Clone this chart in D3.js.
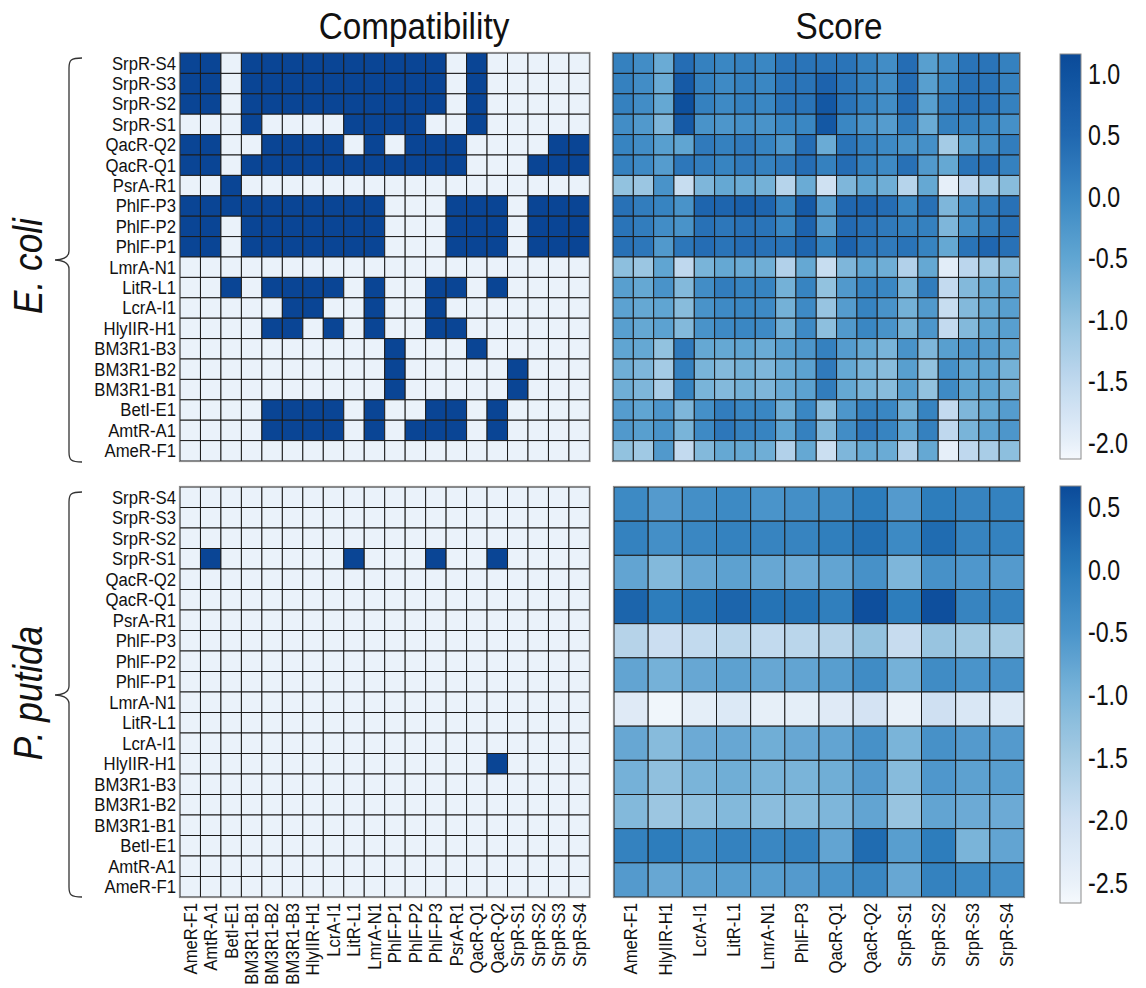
<!DOCTYPE html>
<html><head><meta charset="utf-8">
<script src="https://cdn.jsdelivr.net/npm/d3@7"></script>
<style>
body{margin:0;background:#fff}
svg{display:block}
text{font-family:"Liberation Sans",Arial,Helvetica,sans-serif;fill:#111}
</style>
</head><body>
<svg id="chart" width="1146" height="988"></svg>
<script>
// ---------------- DATA ----------------
const compatCols = ["AmeR-F1","AmtR-A1","BetI-E1","BM3R1-B1","BM3R1-B2","BM3R1-B3","HlyIIR-H1","LcrA-I1","LitR-L1","LmrA-N1","PhlF-P1","PhlF-P2","PhlF-P3","PsrA-R1","QacR-Q1","QacR-Q2","SrpR-S1","SrpR-S2","SrpR-S3","SrpR-S4"];
const compatRows = ["SrpR-S4","SrpR-S3","SrpR-S2","SrpR-S1","QacR-Q2","QacR-Q1","PsrA-R1","PhlF-P3","PhlF-P2","PhlF-P1","LmrA-N1","LitR-L1","LcrA-I1","HlyIIR-H1","BM3R1-B3","BM3R1-B2","BM3R1-B1","BetI-E1","AmtR-A1","AmeR-F1"];

const ecoliCompat = [
  [1,1,0,1,1,1,1,1,1,1,1,1,1,0,1,0,0,0,0,0],
  [1,1,0,1,1,1,1,1,1,1,1,1,1,0,1,0,0,0,0,0],
  [1,1,0,1,1,1,1,1,1,1,1,1,1,0,1,0,0,0,0,0],
  [0,0,0,1,0,0,0,0,1,1,1,1,0,0,1,0,0,0,0,0],
  [1,1,0,0,1,1,1,1,0,1,0,1,1,1,0,0,0,0,1,1],
  [1,1,0,1,1,1,1,1,1,1,1,1,1,1,0,0,0,1,1,1],
  [0,0,1,0,0,0,0,0,0,0,0,0,0,0,0,0,0,0,0,0],
  [1,1,1,1,1,1,1,1,1,1,0,0,0,1,1,1,0,1,1,1],
  [1,1,0,1,1,1,1,1,1,1,0,0,0,1,1,1,0,1,1,1],
  [1,1,0,1,1,1,1,1,1,1,0,0,0,1,1,1,0,1,1,1],
  [0,0,0,0,0,0,0,0,0,0,0,0,0,0,0,0,0,0,0,0],
  [0,0,1,0,1,1,1,1,0,1,0,0,1,1,0,1,0,0,0,0],
  [0,0,0,0,0,1,1,0,0,1,0,0,1,0,0,0,0,0,0,0],
  [0,0,0,0,1,1,0,1,0,1,0,0,1,1,0,0,0,0,0,0],
  [0,0,0,0,0,0,0,0,0,0,1,0,0,0,1,0,0,0,0,0],
  [0,0,0,0,0,0,0,0,0,0,1,0,0,0,0,0,1,0,0,0],
  [0,0,0,0,0,0,0,0,0,0,1,0,0,0,0,0,1,0,0,0],
  [0,0,0,0,1,1,1,1,0,1,0,0,1,1,0,1,0,0,0,0],
  [0,0,0,0,1,1,1,1,0,1,0,1,1,1,0,1,0,0,0,0],
  [0,0,0,0,0,0,0,0,0,0,0,0,0,0,0,0,0,0,0,0]
];

const pputidaCompat = [
  [0,0,0,0,0,0,0,0,0,0,0,0,0,0,0,0,0,0,0,0],
  [0,0,0,0,0,0,0,0,0,0,0,0,0,0,0,0,0,0,0,0],
  [0,0,0,0,0,0,0,0,0,0,0,0,0,0,0,0,0,0,0,0],
  [0,1,0,0,0,0,0,0,1,0,0,0,1,0,0,1,0,0,0,0],
  [0,0,0,0,0,0,0,0,0,0,0,0,0,0,0,0,0,0,0,0],
  [0,0,0,0,0,0,0,0,0,0,0,0,0,0,0,0,0,0,0,0],
  [0,0,0,0,0,0,0,0,0,0,0,0,0,0,0,0,0,0,0,0],
  [0,0,0,0,0,0,0,0,0,0,0,0,0,0,0,0,0,0,0,0],
  [0,0,0,0,0,0,0,0,0,0,0,0,0,0,0,0,0,0,0,0],
  [0,0,0,0,0,0,0,0,0,0,0,0,0,0,0,0,0,0,0,0],
  [0,0,0,0,0,0,0,0,0,0,0,0,0,0,0,0,0,0,0,0],
  [0,0,0,0,0,0,0,0,0,0,0,0,0,0,0,0,0,0,0,0],
  [0,0,0,0,0,0,0,0,0,0,0,0,0,0,0,0,0,0,0,0],
  [0,0,0,0,0,0,0,0,0,0,0,0,0,0,0,1,0,0,0,0],
  [0,0,0,0,0,0,0,0,0,0,0,0,0,0,0,0,0,0,0,0],
  [0,0,0,0,0,0,0,0,0,0,0,0,0,0,0,0,0,0,0,0],
  [0,0,0,0,0,0,0,0,0,0,0,0,0,0,0,0,0,0,0,0],
  [0,0,0,0,0,0,0,0,0,0,0,0,0,0,0,0,0,0,0,0],
  [0,0,0,0,0,0,0,0,0,0,0,0,0,0,0,0,0,0,0,0],
  [0,0,0,0,0,0,0,0,0,0,0,0,0,0,0,0,0,0,0,0]
];

const ecoliScoreCols = ["AmeR-F1","AmtR-A1","BetI-E1","BM3R1-B1","BM3R1-B2","BM3R1-B3","HlyIIR-H1","LcrA-I1","LitR-L1","LmrA-N1","PhlF-P1","PhlF-P2","PhlF-P3","PsrA-R1","QacR-Q1","QacR-Q2","SrpR-S1","SrpR-S2","SrpR-S3","SrpR-S4"];
const ecoliScoreRows = ["SrpR-S4","SrpR-S3","SrpR-S2","SrpR-S1","QacR-Q2","QacR-Q1","PsrA-R1","PhlF-P3","PhlF-P2","PhlF-P1","LmrA-N1","LitR-L1","LcrA-I1","HlyIIR-H1","BM3R1-B3","BM3R1-B2","BM3R1-B1","BetI-E1","AmtR-A1","AmeR-F1"];
const ecoliScore = [
  [0.1,-0.1,-0.6,0.4,0.1,0,0.1,0,0.3,0.3,0.3,0.3,0.1,-0.1,0.4,-0.4,-0.1,0.3,0.3,0.1],
  [0.1,-0.1,-0.6,0.8,0.1,-0.05,0.1,0,0.3,0.3,0.6,0.3,0.1,-0.1,0.4,-0.4,0,0.35,0.3,0.1],
  [0.1,-0.1,-0.55,1.05,0.1,-0.05,0.1,0,0.3,0.3,0.85,0.3,0.1,-0.1,0.4,-0.4,0.15,0.35,0.3,0.1],
  [-0.1,-0.3,-0.8,0.8,-0.2,-0.25,-0.15,-0.2,0,0,0.85,0,-0.2,-0.35,0.15,-0.6,0.1,0.1,0,-0.15],
  [0.05,-0.1,-0.4,-0.5,0.2,0.1,0.2,0.05,-0.25,0.4,-0.6,0.3,0.1,-0.05,-0.2,-0.15,-1.2,-0.4,-0.1,0.15],
  [0.1,-0.05,-0.35,0.25,0.15,0.05,0.2,0.1,0.2,0.4,0.1,0.4,0.1,-0.05,0.35,-0.3,-0.55,0.3,0.35,0.1],
  [-1.0,-1.1,-0.2,-1.6,-0.8,-0.55,-0.6,-0.7,-1.4,-0.6,-1.7,-0.8,-0.5,-0.65,-1.4,-0.55,-2.0,-1.5,-1.2,-0.9],
  [0.35,0.15,0.05,-0.2,0.55,0.55,0.7,0.55,0.05,0.8,-0.35,0.5,0.55,0.4,0,0.35,-0.8,-0.1,0.15,0.35],
  [0.3,0.15,-0.1,-0.2,0.35,0.25,0.35,0.3,0,0.6,-0.35,0.45,0.35,0.2,0.1,0.1,-0.8,-0.15,0.15,0.35],
  [0.35,0.25,-0.3,0.25,0.4,0.3,0.4,0.35,0.3,0.55,0.05,0.6,0.3,0.2,0.3,0.05,-0.55,0.3,0.5,0.35],
  [-0.95,-1.1,-0.5,-1.5,-0.75,-0.55,-0.6,-0.65,-1.35,-0.55,-1.6,-0.8,-0.5,-0.65,-1.35,-0.55,-1.95,-1.45,-1.15,-0.9],
  [-0.4,-0.55,-0.2,-0.85,-0.1,0.15,0.05,0.05,-0.7,0.05,-1.0,-0.3,0.05,0,-0.75,0.15,-1.55,-0.85,-0.55,-0.45],
  [-0.45,-0.55,-0.5,-0.9,-0.2,-0.05,0,-0.05,-0.7,-0.05,-1.05,-0.35,0.05,-0.2,-0.7,-0.3,-1.6,-0.85,-0.55,-0.4],
  [-0.4,-0.55,-0.45,-0.85,-0.2,-0.05,0,-0.05,-0.65,-0.05,-0.95,-0.3,0,-0.2,-0.7,-0.25,-1.55,-0.85,-0.5,-0.4],
  [-0.5,-0.55,-1.0,0.2,-0.55,-0.55,-0.5,-0.6,-0.4,-0.25,0.1,-0.35,-0.55,-0.75,-0.2,-0.8,-0.4,-0.25,-0.35,-0.5],
  [-0.65,-0.8,-1.2,0.1,-0.75,-0.85,-0.7,-0.8,-0.6,-0.45,0.2,-0.55,-0.75,-0.9,-0.4,-1.0,-0.15,-0.5,-0.5,-0.7],
  [-0.65,-0.8,-1.25,0.05,-0.75,-0.85,-0.7,-0.8,-0.6,-0.45,0.15,-0.55,-0.75,-0.9,-0.4,-1.0,-0.05,-0.5,-0.5,-0.7],
  [-0.35,-0.5,-0.25,-0.8,-0.15,0.15,0,0,-0.65,0,-0.95,-0.25,0.1,0,-0.7,0.05,-1.55,-0.8,-0.55,-0.35],
  [-0.3,-0.4,-0.2,-0.75,-0.05,0.25,0.1,0.05,-0.5,0.1,-0.85,-0.1,0.25,0.05,-0.5,0.1,-1.5,-0.75,-0.45,-0.25],
  [-1.0,-1.15,-0.3,-1.55,-0.85,-0.55,-0.55,-0.65,-1.35,-0.55,-1.65,-0.8,-0.55,-0.6,-1.35,-0.55,-2.0,-1.5,-1.25,-0.95]
];

const pputidaScoreCols = ["AmeR-F1","HlyIIR-H1","LcrA-I1","LitR-L1","LmrA-N1","PhlF-P3","QacR-Q1","QacR-Q2","SrpR-S1","SrpR-S2","SrpR-S3","SrpR-S4"];
const pputidaScoreRows = ["SrpR-S4","SrpR-S3","SrpR-S2","SrpR-S1","QacR-Q2","QacR-Q1","PhlF-P3","LmrA-N1","LitR-L1","LcrA-I1","HlyIIR-H1","AmeR-F1"];
const pputidaScore = [
  [-0.3,-0.6,-0.4,-0.3,-0.5,-0.4,-0.35,-0.05,-0.6,-0.05,-0.2,-0.15],
  [-0.15,-0.4,-0.25,-0.15,-0.2,-0.2,-0.1,0.15,-0.3,0.2,-0.2,-0.15],
  [-0.75,-1.1,-0.8,-0.7,-0.8,-0.85,-0.75,-0.45,-1.05,-0.45,-0.55,-0.6],
  [0.3,-0.05,0.1,0.3,0.1,0.1,-0.1,0.6,-0.05,0.6,-0.2,-0.15],
  [-1.7,-1.95,-1.85,-1.75,-1.85,-1.75,-1.7,-1.3,-1.9,-1.35,-1.45,-1.5],
  [-0.75,-0.95,-0.8,-0.7,-0.8,-0.75,-0.65,-0.35,-0.95,-0.35,-0.5,-0.45],
  [-2.3,-2.6,-2.4,-2.25,-2.45,-2.4,-2.3,-2.1,-2.5,-2.0,-2.2,-2.25],
  [-0.8,-1.15,-0.85,-0.8,-0.9,-0.8,-0.75,-0.45,-1.0,-0.45,-0.6,-0.6],
  [-0.95,-1.25,-1.0,-0.9,-1.0,-1.0,-0.9,-0.6,-1.15,-0.55,-0.7,-0.65],
  [-1.1,-1.4,-1.25,-1.1,-1.2,-1.15,-1.05,-0.75,-1.35,-0.75,-0.85,-0.85],
  [-0.15,-0.05,-0.3,-0.15,-0.25,-0.15,-0.75,0.2,-0.65,-0.05,-1.0,-0.75],
  [-0.6,-0.8,-0.7,-0.65,-0.65,-0.6,-0.5,-0.25,-0.8,-0.15,-0.3,-0.4]
];

const ecoliTicks = [1.0,0.5,0.0,-0.5,-1.0,-1.5,-2.0];
const pputidaTicks = [0.5,0.0,-0.5,-1.0,-1.5,-2.0,-2.5];
const panelTitles = ["Compatibility","Score"];
const speciesNames = ["E. coli","P. putida"];

// ---------------- STYLE ----------------
const COMPAT_ON = "#0a4595", COMPAT_OFF = "#eaf2fa";
const colorStopsE = {v:[-2.14,-2.0,-1.5,-1.0,-0.5,0,0.5,1.0,1.16],
  c:["#f5f9fd","#e6eff9","#bfd8ee","#92c2df","#60a5d2","#3a87c3","#2067b0","#0f529f","#0b4a98"]};
const colorStopsP = {v:[-2.67,-2.5,-2.0,-1.5,-1.0,-0.5,0,0.5,0.67],
  c:["#f5f9fd","#e9f1f9","#cfe0f2","#a5cbe3","#7ab4d9","#4a94ca","#2a7aba","#1257a3","#0b4a98"]};
const LABEL_SIZE = 17.6, LABEL_SX = 0.95;

const svg = d3.select("#chart");
const defs = svg.append("defs");

function heatmap(rows, cols, matrix, box, fillFn){
  const g = svg.append("g");
  const x = d3.scaleBand().domain(cols).range([box.x0, box.x1]);
  const y = d3.scaleBand().domain(rows).range([box.y0, box.y1]);
  const cells = [];
  rows.forEach((r,i)=>cols.forEach((c,j)=>cells.push({r,c,v:matrix[i][j]})));
  g.selectAll("rect.cell").data(cells).join("rect")
    .attr("class","cell")
    .attr("x",d=>x(d.c)).attr("y",d=>y(d.r))
    .attr("width",x.bandwidth()).attr("height",y.bandwidth())
    .attr("fill",d=>fillFn(d.v))
    .attr("stroke","#1c1c1c").attr("stroke-width",1);
  g.append("rect")
    .attr("x",box.x0-0.5).attr("y",box.y0-0.5)
    .attr("width",box.x1-box.x0+1).attr("height",box.y1-box.y0+1)
    .attr("fill","none").attr("stroke","#8a8a8a").attr("stroke-width",1.2);
  return {g,x,y};
}

function rowLabels(y, xPos){
  const ax = svg.append("g").attr("transform",`translate(${xPos},0)`)
    .call(d3.axisLeft(y).tickSize(0).tickPadding(0));
  ax.select(".domain").remove();
  ax.selectAll("text")
    .attr("x",-4/LABEL_SX).attr("dy","0.36em")
    .attr("transform",`scale(${LABEL_SX},1)`)
    .style("font-size",LABEL_SIZE+"px").style("font-family",'"Liberation Sans",Arial,sans-serif')
    .attr("fill","#111");
}

function colLabels(x, yPos){
  const ax = svg.append("g").attr("transform",`translate(0,${yPos})`)
    .call(d3.axisBottom(x).tickSize(0).tickPadding(0));
  ax.select(".domain").remove();
  ax.selectAll("text")
    .attr("x",-6/LABEL_SX).attr("y",0).attr("dy","0.36em")
    .attr("transform",`rotate(-90) scale(${LABEL_SX},1)`)
    .style("text-anchor","end")
    .style("font-size",LABEL_SIZE+"px").style("font-family",'"Liberation Sans",Arial,sans-serif')
    .attr("fill","#111");
}

function colorbar(id, stops, ticks, tickScale, bar){
  const cs = d3.scaleLinear().domain(stops.v).range(stops.c).interpolate(d3.interpolateRgb);
  const grad = defs.append("linearGradient").attr("id",id)
    .attr("x1",0).attr("y1",1).attr("x2",0).attr("y2",0);
  const vBot = tickScale.invert(bar.y1), vTop = tickScale.invert(bar.y0);
  d3.range(0,41).forEach(i=>{
    const t=i/40;
    grad.append("stop").attr("offset",t).attr("stop-color",cs(vBot+(vTop-vBot)*t));
  });
  svg.append("rect").attr("x",bar.x0).attr("y",bar.y0)
    .attr("width",bar.x1-bar.x0).attr("height",bar.y1-bar.y0)
    .attr("fill",`url(#${id})`).attr("stroke","#8c8c8c").attr("stroke-width",1);
  const ax = svg.append("g").attr("transform",`translate(${bar.x1},0)`)
    .call(d3.axisRight(tickScale).tickValues(ticks).tickSize(0).tickPadding(0).tickFormat(d=>d.toFixed(1)));
  ax.select(".domain").remove();
  ax.selectAll("text")
    .attr("x",7/0.8).attr("dy","0.36em")
    .attr("transform","scale(0.8,1)")
    .style("font-size","29px").style("font-family",'"Liberation Sans",Arial,sans-serif')
    .attr("fill","#111");
  return cs;
}

function brace(xEnd, xLine, xTip, yTop, yMid, yBot){
  const p = `M${xEnd},${yTop} C${xLine+2},${yTop} ${xLine},${yTop+2} ${xLine},${yTop+10}`+
    ` L${xLine},${yMid-9} C${xLine},${yMid-2} ${xTip+6},${yMid} ${xTip},${yMid}`+
    ` C${xTip+6},${yMid} ${xLine},${yMid+2} ${xLine},${yMid+9}`+
    ` L${xLine},${yBot-10} C${xLine},${yBot-2} ${xLine+2},${yBot} ${xEnd},${yBot}`;
  svg.append("path").attr("d",p).attr("fill","none").attr("stroke","#333").attr("stroke-width",1.3);
}

// ---------------- LAYOUT ----------------
const boxCompE = {x0:180,x1:589.4,y0:53,y1:461};
const boxScoreE = {x0:613,x1:1019.5,y0:53,y1:461};
const boxCompP = {x0:180,x1:589.4,y0:487,y1:897};
const boxScoreP = {x0:614,x1:1024,y0:487,y1:897};

const cE = colorbar("gE", colorStopsE, ecoliTicks,
  d3.scaleLinear().domain([-2.0,1.0]).range([442,73]), {x0:1060,x1:1081,y0:54,y1:459});
const cP = colorbar("gP", colorStopsP, pputidaTicks,
  d3.scaleLinear().domain([-2.5,0.5]).range([882,506]), {x0:1060,x1:1081,y0:486,y1:903});

const compFill = v => v ? COMPAT_ON : COMPAT_OFF;
const hCE = heatmap(compatRows, compatCols, ecoliCompat, boxCompE, compFill);
heatmap(ecoliScoreRows, ecoliScoreCols, ecoliScore, boxScoreE, cE);
const hCP = heatmap(compatRows, compatCols, pputidaCompat, boxCompP, compFill);
const hSP = heatmap(pputidaScoreRows, pputidaScoreCols, pputidaScore, boxScoreP, cP);

rowLabels(hCE.y, boxCompE.x0);
rowLabels(hCP.y, boxCompP.x0);
colLabels(hCP.x, boxCompP.y1);
colLabels(hSP.x, boxScoreP.y1);

// titles
const titleX = [414, 839];
panelTitles.forEach((t,i)=>{
  svg.append("text").attr("transform",`translate(${titleX[i]},39) scale(0.9,1)`)
    .attr("text-anchor","middle").style("font-size","37px").text(t);
});

// species labels + braces
brace(82, 69, 55, 58, 260, 462);
brace(82, 69, 55, 492, 695, 897);
const spY = [266, 693];
speciesNames.forEach((s,i)=>{
  svg.append("text").attr("transform",`translate(42,${spY[i]}) rotate(-90) scale(0.88,1)`)
    .attr("text-anchor","middle").style("font-size","40px").style("font-style","italic").text(s);
});
</script>
</body></html>
